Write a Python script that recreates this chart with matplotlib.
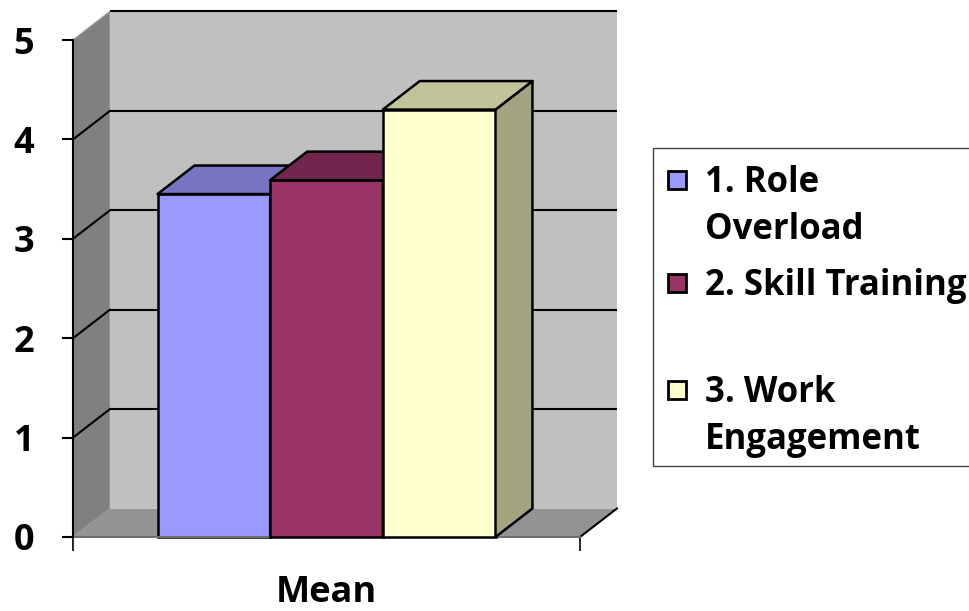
import matplotlib
matplotlib.use("Agg")
import matplotlib.pyplot as plt
from matplotlib.patches import Polygon, Rectangle

# ---- data ----
categories = ["Mean"]
series_names = ["1. Role\nOverload", "2. Skill Training\n", "3. Work\nEngagement"]
series_values = [3.45, 3.59, 4.30]
y_ticks = [0, 1, 2, 3, 4, 5]

# ---- styling ----
front_colors = ["#9999FF", "#993366", "#FFFFCC"]
top_colors = ["#7575C2", "#73264D", "#C2C29B"]
side_colors = ["#5C5C99", "#5C1F3D", "#A3A380"]
FONT = "Open Sans"

fig = plt.figure(figsize=(9.69, 6.11), dpi=100)
ax = fig.add_axes([73 / 969, 74 / 611, 507 / 969, 497 / 611])
ax.set_xlim(0, 4.5)
ax.set_ylim(0, 5)
ax.patch.set_visible(False)

# depth offset of the 3-D box (data units)
dx, dy = 0.328, 0.287
x_right = 4.5
y_top = y_ticks[-1]

# walls and floor
left_wall = Polygon([(0, 0), (0, y_top), (dx, y_top + dy), (dx, dy)],
                    closed=True, facecolor="#808080", edgecolor="#9a9a9a",
                    lw=1.0, clip_on=False, zorder=0)
back_wall = Rectangle((dx, dy), x_right, y_top, facecolor="#C0C0C0",
                      edgecolor="none", clip_on=False, zorder=0)
floor = Polygon([(0, 0), (x_right, 0), (x_right + dx, dy), (dx, dy)],
                closed=True, facecolor="#939393", edgecolor="none",
                clip_on=False, zorder=0)
for p in (left_wall, back_wall, floor):
    ax.add_patch(p)

# gridlines on the back wall and their diagonals on the side wall
for v in y_ticks[1:]:
    ax.plot([dx, x_right + dx], [v + dy, v + dy], color="black", lw=1.5,
            clip_on=False, zorder=1, solid_capstyle="butt")
    if v < y_top:
        ax.plot([0, dx], [v, v + dy], color="black", lw=1.5,
                clip_on=False, zorder=1)
ax.plot([x_right, x_right + dx], [0, dy], color="black", lw=1.5,
        clip_on=False, zorder=1)

# 3-D columns
width = 1.0
centers = [1.25 + i for i in range(len(series_values))]
for i, (c, v) in enumerate(zip(centers, series_values)):
    x0, x1 = c - width / 2, c + width / 2
    z = 2 + i
    ax.bar(c, v, width=width, color=front_colors[i], edgecolor="black",
           lw=1.8, zorder=z, clip_on=False)
    top = Polygon([(x0, v), (x1, v), (x1 + dx, v + dy), (x0 + dx, v + dy)],
                  closed=True, facecolor=top_colors[i], edgecolor="black",
                  lw=1.8, joinstyle="round", clip_on=False, zorder=z)
    side = Polygon([(x1, 0), (x1 + dx, dy), (x1 + dx, v + dy), (x1, v)],
                   closed=True, facecolor=side_colors[i], edgecolor="black",
                   lw=1.8, joinstyle="round", clip_on=False, zorder=z)
    ax.add_patch(side)
    ax.add_patch(top)

# axes
for s in ("top", "right"):
    ax.spines[s].set_visible(False)
ax.spines["left"].set_linewidth(1.5)
ax.spines["bottom"].set_linewidth(1.5)
ax.spines["bottom"].set_color("#6e6e6e")
ax.spines["left"].set_zorder(6)

ax.set_yticks(y_ticks)
ax.set_yticklabels([str(t) for t in y_ticks], fontsize=26,
                   fontweight="bold", family=FONT)
ax.tick_params(axis="y", direction="out", length=8, width=1.5, pad=20)

ax.set_xticks([2.25])
ax.set_xticklabels(categories, fontsize=26, fontweight="bold", family=FONT)
ax.tick_params(axis="x", which="major", length=0, pad=27)
ax.set_xticks([0, x_right], minor=True)
ax.tick_params(axis="x", which="minor", direction="out", length=10,
               width=1.2)

# legend box
W, H = 969, 611
def fx(px):
    return px / W
def fy(py):
    return 1 - py / H

fig.patches.append(Rectangle((fx(653), fy(466)), fx(340), (466 - 148) / H,
                             transform=fig.transFigure, facecolor="white",
                             edgecolor="#444444", lw=1.0))
first_line_centers = [180, 283, 390]
for name, col, cy in zip(series_names, front_colors, first_line_centers):
    fig.patches.append(Rectangle((fx(668), fy(cy + 9)), fx(18), 18 / H,
                                 transform=fig.transFigure, facecolor=col,
                                 edgecolor="black", lw=2.0))
    fig.text(fx(705), fy(cy - 15), name, fontsize=25, fontweight="bold",
             family=FONT, va="top", ha="left", linespacing=1.42)

fig.savefig("out.png", dpi=100)
